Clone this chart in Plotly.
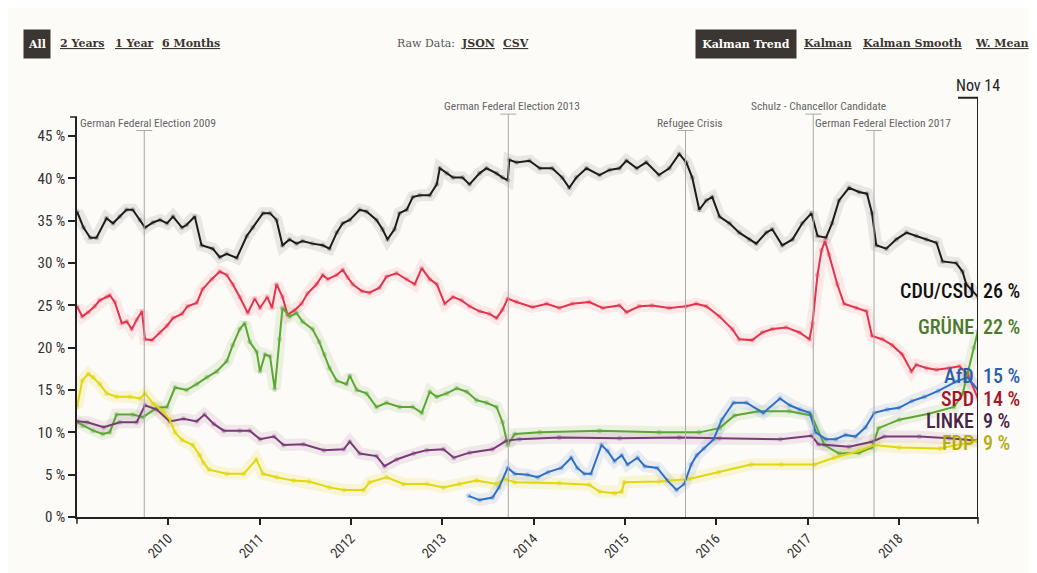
import plotly.graph_objects as go

# ---------------- data ----------------
cdu_dates = ["2009-01-01","2009-01-27","2009-02-23","2009-03-20","2009-04-29","2009-05-25","2009-06-21","2009-07-18","2009-08-12","2009-09-10","2009-09-30","2009-11-01","2009-11-29","2009-12-27","2010-01-20","2010-02-25","2010-03-15","2010-04-17","2010-05-14","2010-06-28","2010-07-26","2010-08-23","2010-10-02","2010-11-11","2010-12-05","2011-01-15","2011-02-12","2011-03-10","2011-04-03","2011-05-01","2011-05-29","2011-06-22","2011-08-01","2011-09-11","2011-10-08","2011-11-06","2011-11-30","2011-12-28","2012-02-06","2012-03-04","2012-04-13","2012-05-07","2012-05-27","2012-06-24","2012-07-14","2012-08-12","2012-09-05","2012-10-03","2012-11-12","2012-12-10","2012-12-22","2013-01-19","2013-02-13","2013-03-23","2013-04-20","2013-05-30","2013-06-27","2013-08-06","2013-08-30","2013-09-20","2013-09-26","2013-10-25","2013-12-16","2014-01-26","2014-03-17","2014-04-26","2014-05-24","2014-06-21","2014-08-01","2014-09-22","2014-11-01","2014-12-11","2015-01-08","2015-02-18","2015-03-28","2015-05-18","2015-06-28","2015-08-07","2015-09-04","2015-09-28","2015-10-26","2015-11-23","2015-12-17","2016-01-15","2016-02-24","2016-04-03","2016-05-13","2016-06-10","2016-07-20","2016-08-13","2016-09-22","2016-11-02","2016-12-11","2017-01-17","2017-02-10","2017-03-16","2017-04-09","2017-05-07","2017-06-16","2017-07-26","2017-08-27","2017-09-16","2017-10-03","2017-11-12","2017-12-22","2018-02-01","2018-03-12","2018-04-21","2018-06-01","2018-06-25","2018-08-19","2018-09-13","2018-09-28","2018-10-20","2018-11-14"]
cdu_vals = [36.1,34.2,33.0,33.0,35.3,34.7,35.5,36.3,36.3,35.1,34.2,34.8,35.1,34.7,35.5,34.2,34.5,35.5,32.1,31.7,30.7,31.1,30.6,33.2,34.2,35.9,35.9,35.1,32.1,32.8,32.3,32.6,32.3,32.1,31.7,33.6,34.7,35.1,36.3,36.1,35.1,34.0,32.8,34.0,35.9,36.3,37.8,38.0,38.0,39.3,41.2,40.6,40.1,40.1,39.3,40.6,41.2,40.6,40.1,39.8,42.2,41.9,42.1,41.2,41.2,40.1,38.9,40.1,41.2,40.4,41.0,41.2,42.1,41.2,41.9,40.4,41.2,42.9,41.9,40.1,36.3,37.4,37.8,35.5,34.7,33.6,32.8,32.3,33.6,34.0,32.1,32.8,34.7,35.9,33.2,33.0,34.7,37.4,38.9,38.4,38.2,35.9,32.1,31.7,32.8,33.6,33.2,32.8,32.4,30.2,30.0,29.0,27.5,26.8,26.0]

spd_dates = ["2009-01-01","2009-01-22","2009-02-15","2009-03-13","2009-04-02","2009-04-30","2009-05-12","2009-06-01","2009-06-29","2009-07-19","2009-08-08","2009-08-28","2009-09-18","2009-09-30","2009-10-28","2009-11-29","2009-12-27","2010-01-20","2010-02-25","2010-03-19","2010-04-25","2010-05-18","2010-06-24","2010-07-26","2010-08-23","2010-09-16","2010-10-14","2010-11-15","2010-12-13","2011-01-03","2011-02-01","2011-02-20","2011-03-10","2011-04-03","2011-04-23","2011-05-21","2011-06-18","2011-07-12","2011-08-17","2011-09-11","2011-10-01","2011-11-06","2011-11-30","2011-12-20","2012-01-09","2012-02-14","2012-03-16","2012-04-25","2012-05-23","2012-07-02","2012-08-12","2012-09-13","2012-10-11","2012-11-12","2012-12-10","2013-01-11","2013-02-13","2013-03-19","2013-04-20","2013-05-30","2013-07-09","2013-08-06","2013-08-30","2013-09-20","2013-10-25","2013-12-28","2014-02-23","2014-04-14","2014-06-05","2014-08-12","2014-10-04","2014-12-11","2015-01-08","2015-02-28","2015-04-21","2015-06-28","2015-09-04","2015-10-14","2015-11-23","2016-01-15","2016-03-06","2016-04-03","2016-05-25","2016-07-04","2016-08-13","2016-10-08","2016-11-30","2017-01-09","2017-01-21","2017-02-10","2017-02-26","2017-03-12","2017-03-28","2017-04-30","2017-05-27","2017-07-15","2017-08-25","2017-09-16","2017-10-27","2017-12-06","2018-01-15","2018-02-21","2018-03-12","2018-04-21","2018-06-01","2018-07-22","2018-09-01","2018-10-03","2018-11-14"]
spd_vals = [24.9,23.7,24.2,24.9,25.6,26.0,26.2,25.4,22.9,23.1,22.2,23.3,24.3,21.0,20.9,21.8,22.6,23.5,24.0,24.9,25.3,26.9,28.1,29.0,28.6,27.5,26.0,24.1,25.8,24.7,26.0,24.7,27.5,26.0,23.9,24.4,25.2,26.4,27.5,28.6,28.1,28.6,29.2,28.3,27.5,26.7,26.5,27.1,28.4,28.8,28.1,27.5,29.4,28.1,27.5,25.2,26.0,25.6,24.9,24.3,24.0,23.5,24.5,25.8,25.4,24.8,25.2,24.7,25.2,25.4,24.7,25.0,24.2,24.9,25.0,24.7,24.9,25.2,24.9,23.7,22.2,21.0,20.9,21.8,22.2,22.4,21.8,21.0,22.9,28.6,31.5,32.6,31.0,27.5,25.2,24.7,24.3,21.4,21.0,20.3,19.2,17.2,18.0,17.6,17.4,17.6,17.8,16.9,14.0]

gruene_dates = ["2009-01-01","2009-01-25","2009-03-06","2009-04-14","2009-05-12","2009-06-08","2009-08-12","2009-09-22","2009-11-16","2009-12-27","2010-01-28","2010-03-15","2010-04-25","2010-06-04","2010-07-14","2010-08-23","2010-09-16","2010-10-14","2010-11-03","2010-11-23","2010-12-21","2011-01-03","2011-01-23","2011-02-12","2011-03-03","2011-03-22","2011-04-03","2011-05-01","2011-05-29","2011-06-22","2011-08-01","2011-08-28","2011-09-18","2011-10-08","2011-11-06","2011-12-15","2011-12-28","2012-01-25","2012-03-04","2012-04-13","2012-05-23","2012-07-14","2012-09-05","2012-10-11","2012-11-12","2012-12-10","2013-01-19","2013-02-28","2013-04-09","2013-05-18","2013-06-27","2013-08-06","2013-08-30","2013-09-20","2013-10-18","2014-01-26","2014-09-22","2015-05-18","2015-10-26","2016-01-15","2016-03-15","2016-06-20","2016-10-20","2017-01-17","2017-03-10","2017-05-07","2017-07-26","2017-09-16","2017-10-12","2018-01-03","2018-05-01","2018-08-10","2018-09-13","2018-10-03","2018-10-28","2018-11-14"]
gruene_vals = [11.2,10.8,10.2,9.8,10.0,12.1,12.1,11.8,12.9,13.0,15.3,15.0,15.7,16.5,17.2,18.4,20.3,22.2,22.9,20.7,19.5,17.2,19.2,19.0,15.1,21.0,24.7,23.7,24.1,23.1,22.2,20.7,19.2,17.6,16.1,15.7,16.7,15.0,14.6,13.0,13.5,13.0,13.0,12.3,14.8,14.2,14.6,15.2,14.8,13.8,13.5,13.0,11.2,8.5,9.8,10.0,10.2,10.0,10.0,10.5,12.0,12.5,12.5,12.0,8.5,7.5,7.6,8.2,10.5,11.5,12.2,13.0,14.5,17.0,20.0,22.0]

linke_dates = ["2009-01-01","2009-02-11","2009-04-18","2009-06-21","2009-08-28","2009-09-30","2009-11-16","2010-01-07","2010-03-03","2010-04-25","2010-05-26","2010-07-02","2010-08-11","2010-10-14","2010-11-23","2011-01-03","2011-02-28","2011-04-07","2011-06-26","2011-09-15","2011-12-04","2011-12-28","2012-02-06","2012-04-13","2012-05-15","2012-07-02","2012-09-08","2012-10-31","2013-01-06","2013-02-16","2013-04-20","2013-07-21","2013-09-14","2013-11-05","2014-04-14","2014-12-11","2015-08-07","2016-01-15","2016-09-15","2017-01-17","2017-02-13","2017-06-16","2017-09-16","2017-11-04","2018-03-24","2018-07-22","2018-11-14"]
linke_vals = [11.3,11.2,10.6,11.2,11.2,13.2,12.7,11.3,11.6,11.3,12.1,11.0,10.2,10.2,10.2,9.2,9.5,8.5,8.6,7.9,8.0,8.9,7.5,7.2,6.0,6.8,7.5,7.9,8.0,7.0,7.6,8.0,9.0,9.2,9.4,9.3,9.4,9.3,9.2,9.6,8.6,8.3,8.9,9.5,9.5,9.3,9.0]

fdp_dates = ["2009-01-01","2009-01-22","2009-02-15","2009-03-06","2009-04-02","2009-04-30","2009-06-08","2009-08-01","2009-09-10","2009-09-30","2009-11-01","2009-12-11","2010-01-07","2010-01-28","2010-02-25","2010-04-09","2010-05-07","2010-05-22","2010-06-13","2010-08-23","2010-10-30","2010-12-19","2011-01-15","2011-03-10","2011-05-17","2011-07-18","2011-10-08","2011-12-04","2012-02-21","2012-03-16","2012-05-23","2012-07-30","2012-10-31","2013-01-06","2013-03-11","2013-05-18","2013-08-06","2013-09-07","2013-10-18","2014-04-14","2014-08-12","2014-09-22","2014-11-21","2014-12-20","2014-12-30","2015-05-18","2015-09-15","2016-01-11","2016-05-20","2016-09-18","2017-01-29","2017-04-17","2017-07-26","2017-09-24","2018-01-03","2018-06-15","2018-11-14"]
fdp_vals = [13.0,16.1,16.9,16.5,15.7,14.6,14.2,14.2,14.0,14.6,13.4,12.5,11.5,10.0,9.1,8.5,7.3,6.4,5.6,5.1,5.1,6.8,5.1,4.7,4.3,4.2,3.5,3.2,3.2,4.1,4.7,3.9,3.9,3.5,3.9,4.3,3.9,4.5,4.1,4.0,3.8,3.0,2.8,3.0,4.1,4.2,4.5,5.3,6.2,6.2,6.2,7.0,7.8,8.5,8.2,8.1,9.0]

afd_dates = ["2013-04-16","2013-05-30","2013-07-21","2013-08-16","2013-09-20","2013-10-18","2013-12-08","2014-01-18","2014-02-28","2014-04-22","2014-06-01","2014-06-25","2014-07-23","2014-08-19","2014-09-30","2014-10-24","2014-11-21","2014-12-20","2015-01-12","2015-02-21","2015-03-22","2015-05-11","2015-06-21","2015-07-27","2015-08-27","2015-09-24","2015-10-16","2015-11-13","2015-12-23","2016-01-24","2016-03-11","2016-05-02","2016-07-08","2016-09-13","2016-10-22","2016-12-01","2017-01-10","2017-02-03","2017-03-15","2017-04-24","2017-06-02","2017-07-12","2017-08-21","2017-09-25","2017-11-16","2018-01-02","2018-02-22","2018-04-14","2018-06-08","2018-08-18","2018-10-04","2018-11-14"]
afd_vals = [2.5,2.0,2.3,3.5,5.8,5.1,5.0,4.7,5.3,5.8,7.0,5.8,5.1,5.1,8.5,7.8,6.6,7.3,6.2,7.0,6.0,5.8,4.3,3.2,3.9,6.2,7.3,8.1,9.2,11.5,13.5,13.5,12.3,14.0,13.2,12.7,12.3,10.0,9.2,9.2,9.7,9.5,10.6,12.3,12.7,12.9,13.7,14.2,14.9,16.0,16.5,15.0]

party_names = ["CDU/CSU", "GRÜNE", "AfD", "SPD", "LINKE", "FDP"]
party_latest = [26, 22, 15, 14, 9, 9]

event_dates = ["2009-09-27", "2013-09-22", "2015-09-01", "2017-01-24", "2017-09-24"]
event_labels = ["German Federal Election 2009", "German Federal Election 2013",
                "Refugee Crisis", "Schulz - Chancellor Candidate",
                "German Federal Election 2017"]

y_ticks = [0, 5, 10, 15, 20, 25, 30, 35, 40, 45]
x_ticks = ["2010-01-01", "2011-01-01", "2012-01-01", "2013-01-01", "2014-01-01",
           "2015-01-01", "2016-01-01", "2017-01-01", "2018-01-01"]
x_start, x_end = "2009-01-01", "2018-11-14"

# ---------------- styling ----------------
BG = "#fdfbf7"
COND = "Noto Sans ExtraCondensed, Noto Sans Condensed, Roboto Condensed, Liberation Sans Narrow, Roboto, sans-serif"
SERIF = "DejaVu Serif, Liberation Serif, serif"
def cond(t):
    return f"<span style='font-stretch:condensed'>{t}</span>"

series = [
    ("CDU/CSU", cdu_dates, cdu_vals, "#1c1c1c", "rgba(0,0,0,0.08)", "rgba(60,60,60,0.28)"),
    ("SPD", spd_dates, spd_vals, "#e2344e", "rgba(226,52,78,0.09)", "rgba(226,52,78,0.27)"),
    ("GRÜNE", gruene_dates, gruene_vals, "#5aa832", "rgba(80,150,40,0.10)", "rgba(70,140,40,0.28)"),
    ("LINKE", linke_dates, linke_vals, "#7a3a78", "rgba(122,58,120,0.10)", "rgba(122,58,120,0.28)"),
    ("FDP", fdp_dates, fdp_vals, "#e0d80c", "rgba(224,216,12,0.15)", "rgba(215,205,10,0.36)"),
    ("AfD", afd_dates, afd_vals, "#2f6fc6", "rgba(47,111,198,0.10)", "rgba(47,111,198,0.28)"),
]
label_colors = {"CDU/CSU": "#111111", "GRÜNE": "#4a7a2c", "AfD": "#2b5ea9",
                "SPD": "#a51328", "LINKE": "#4a2248", "FDP": "#b3ac14"}
label_y = {"CDU/CSU": 26.7, "GRÜNE": 22.5, "AfD": 16.7, "SPD": 14.0, "LINKE": 11.3, "FDP": 8.7}

fig = go.Figure()
for name, d, v, lc, band, dot in series:
    fig.add_trace(go.Scatter(x=d, y=v, mode="lines", line=dict(color=band, width=12),
                             hoverinfo="skip", showlegend=False))
for name, d, v, lc, band, dot in series:
    fig.add_trace(go.Scatter(x=d, y=v, mode="markers", marker=dict(color=dot, size=5),
                             hoverinfo="skip", showlegend=False))
for name, d, v, lc, band, dot in series:
    fig.add_trace(go.Scatter(x=d, y=v, mode="lines", line=dict(color=lc, width=2),
                             name=name, showlegend=False))

# page offset of the figure (body margin) and plot geometry in screen pixels
OFF = 8
W, H = 1037 - OFF, 573 - OFF
PL, PR, PT, PB = 77, 978, 117, 531          # plot area in screen pixels
L, R, T, B = PL - OFF, 1037 - PR, PT - OFF, 573 - PB
pw, ph = PR - PL, PB - PT
def px(xs):
    return (xs - PL) / pw
def py(ys):
    return (PB - ys) / ph

shapes = []
annotations = []
event_tops = [131, 114, 131, 114, 131]
event_shift = [4, 4, 4, 5, 9]
for d, lab, top, sh in zip(event_dates, event_labels, event_tops, event_shift):
    shapes.append(dict(type="line", xref="x", yref="paper", x0=d, x1=d, y0=0, y1=py(top),
                       line=dict(color="#a8a8a8", width=1)))
    shapes.append(dict(type="line", xref="x", yref="paper", xsizemode="pixel", xanchor=d,
                       x0=-8, x1=8, y0=py(top), y1=py(top), line=dict(color="#a8a8a8", width=1)))
    annotations.append(dict(x=d, y=py(top), xref="x", yref="paper", text=cond(lab), showarrow=False,
                            xanchor="center", yanchor="bottom", xshift=sh, yshift=-1,
                            font=dict(family=COND, size=11.5, color="#666666")))

# "Nov 14" marker
shapes.append(dict(type="line", xref="x", yref="paper", x0=x_end, x1=x_end, y0=0, y1=py(97),
                   line=dict(color="#222222", width=2)))
shapes.append(dict(type="line", xref="x", yref="paper", xsizemode="pixel", xanchor=x_end,
                   x0=-20, x1=20, y0=py(97), y1=py(97), line=dict(color="#222222", width=2)))
annotations.append(dict(x=x_end, y=py(97), xref="x", yref="paper", text=cond("Nov 14"), showarrow=False,
                        xanchor="center", yanchor="bottom", yshift=1,
                        font=dict(family=COND, size=16, color="#222222")))
# outer ticks
shapes.append(dict(type="line", xref="paper", yref="paper", x0=-7/pw, x1=0, y0=1, y1=1,
                   line=dict(color="#222", width=1.5)))
for xx in [0, 1]:
    shapes.append(dict(type="line", xref="paper", yref="paper", x0=xx, x1=xx, y0=0, y1=-7/ph,
                       line=dict(color="#222", width=1.5)))

# right-side labels
for n, val in zip(party_names, party_latest):
    c = label_colors[n]
    annotations.append(dict(x=x_end, y=label_y[n], xref="x", yref="y", text=cond(n), showarrow=False,
                            xanchor="right", yanchor="middle", xshift=-2,
                            font=dict(family=COND, size=20, color=c, weight=500)))
    annotations.append(dict(x=x_end, y=label_y[n], xref="x", yref="y", text=cond(f"{val} %"),
                            showarrow=False, xanchor="left", yanchor="middle", xshift=3,
                            font=dict(family=COND, size=20, color=c, weight=500)))

# top control bar
ybar = py(41)
def ul(t):
    return f"<span style='text-decoration:underline'><b>{t}</b></span>"
annotations.append(dict(x=px(37), y=ybar, xref="paper", yref="paper", text="<b>All</b>",
                        showarrow=False, xanchor="center", yanchor="middle", width=24, height=26,
                        bgcolor="#3b3631", font=dict(family=SERIF, size=11, color="#ffffff")))
for t, xl in [("2 Years", 58), ("1 Year", 113), ("6 Months", 160), ("JSON", 459), ("CSV", 501),
              ("Kalman", 802), ("Kalman Smooth", 861), ("W. Mean", 973)]:
    annotations.append(dict(x=px(xl), y=ybar, xref="paper", yref="paper", text=ul(t),
                            showarrow=False, xanchor="left", yanchor="middle",
                            font=dict(family=SERIF, size=11, color="#3b3631")))
annotations.append(dict(x=px(395), y=ybar, xref="paper", yref="paper", text="Raw Data:",
                        showarrow=False, xanchor="left", yanchor="middle",
                        font=dict(family=SERIF, size=11, color="#555555")))
annotations.append(dict(x=px(746), y=ybar, xref="paper", yref="paper", text="<b>Kalman Trend</b>",
                        showarrow=False, xanchor="center", yanchor="middle", width=98, height=26,
                        bgcolor="#3b3631", font=dict(family=SERIF, size=11, color="#ffffff")))

fig.update_layout(
    width=W, height=H, autosize=False,
    margin=dict(l=L, r=R, t=T, b=B),
    paper_bgcolor=BG, plot_bgcolor=BG,
    shapes=shapes, annotations=annotations,
    showlegend=False,
    xaxis=dict(range=[x_start, x_end], type="date", tickmode="array", tickvals=x_ticks,
               ticktext=[cond(t[:4]) for t in x_ticks], tickangle=-45,
               showgrid=False, zeroline=False,
               showline=True, linecolor="#222", linewidth=1.5,
               ticks="outside", ticklen=6, tickcolor="#222", tickwidth=1.5,
               tickfont=dict(family=COND, size=14, color="#333")),
    yaxis=dict(range=[0, 47.26], tickmode="array", tickvals=y_ticks,
               ticktext=[cond(f"{v} %") for v in y_ticks], showgrid=False, zeroline=False,
               showline=True, linecolor="#222", linewidth=1.5,
               ticks="outside", ticklen=7, tickcolor="#222", tickwidth=1.5,
               tickfont=dict(family=COND, size=15, color="#333")),
)

fig.write_html("out.html")
